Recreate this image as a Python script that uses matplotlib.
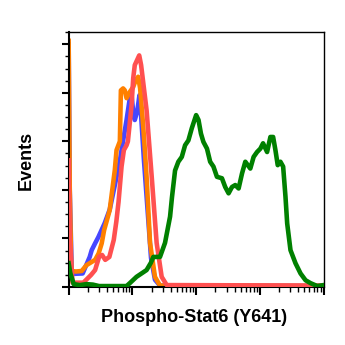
import matplotlib
matplotlib.use("Agg")
import matplotlib.pyplot as plt
from matplotlib.ticker import LogLocator, MultipleLocator, NullFormatter

# histogram traces (intensity, events)
blue_x = [1.0, 1.04, 1.12, 1.66, 2.14, 2.3, 2.6, 2.93, 3.69, 4.42, 5.64, 6.36, 6.76,
          8.1, 9.14, 9.71, 10.3, 10.9, 11.8, 12.3, 12.9, 13.6, 15.2, 17.5, 19.6,
          22.6, 27.1, 10000]
blue_y = [5.0, 2.0, 0.27, 0.28, 0.62, 0.76, 0.9, 1.03, 1.32, 1.6, 2.27, 2.6, 2.82,
          3.44, 3.9, 3.95, 3.6, 3.44, 3.6, 3.75, 3.95, 3.6, 2.6, 1.5, 0.6,
          0.15, 0.03, 0.02]

orange_x = [1.0, 1.04, 1.1, 1.3, 1.6, 1.9, 2.6, 2.95, 3.3, 3.6, 4.4, 5.3, 5.64, 6.36,
            6.6, 7.15, 7.6, 8.1, 9.14, 10.3, 11.2, 12.3, 13.2, 14.8, 15.5, 16.7,
            18.9, 22.6, 27.1, 10000]
orange_y = [5.07, 2.0, 0.33, 0.32, 0.33, 0.45, 0.56, 0.69, 0.9, 1.17, 1.58, 2.41, 2.82, 3.0,
            4.05, 4.09, 4.05, 3.89, 4.02, 4.12, 4.25, 4.33, 4.1, 3.3, 2.92, 2.27,
            0.91, 0.21, 0.03, 0.02]

red_x = [1.0, 1.04, 1.15, 1.7, 2.25, 2.6, 3.0, 3.35, 3.75, 4.35, 5.1, 5.6, 6.06, 6.76, 7.35,
         8.1, 8.5, 9.7, 10.3, 10.9, 12.8, 13.7, 16.7, 20.1, 24.0, 28.8, 34.6, 10000]
red_y = [2.61, 1.0, 0.09, 0.09, 0.25, 0.35, 0.62, 0.66, 0.56, 0.62, 0.97, 1.35, 1.75, 2.48, 2.82,
         2.92, 3.0, 3.74, 4.3, 4.57, 4.77, 4.57, 3.64, 2.27, 0.91, 0.21, 0.04, 0.03]

green_x = [1.0, 1.06, 1.2, 1.5, 1.9, 2.4, 3.0, 8.1, 9.1, 11.6, 16.7, 19.5, 21.3, 27.1,
           32.5, 39.0, 41.8, 46.7, 52.6, 59.6, 67.1, 75.6, 85.5, 100, 109, 119, 130,
           148, 166, 187, 212, 254, 286, 323, 365, 411, 464, 525, 591, 708, 798, 903,
           1018, 1122, 1298, 1463, 1614, 1754, 1906, 2102, 2318, 2522, 2682, 3022,
           3622, 4344, 5207, 6239, 7955, 10000]
green_y = [0.49, 0.29, 0.06, 0.04, 0.06, 0.05, 0.02, 0.02, 0.08, 0.21, 0.35, 0.5, 0.62, 0.62,
           0.91, 1.45, 1.85, 2.4, 2.58, 2.68, 2.92, 3.02, 3.27, 3.54, 3.44, 3.16, 2.99,
           2.85, 2.58, 2.48, 2.27, 2.24, 2.06, 1.93, 2.06, 2.10, 2.03, 2.34, 2.58, 2.44, 2.68, 2.78,
           2.85, 2.96, 2.78, 3.09, 3.09, 2.82, 2.51, 2.58, 2.48, 1.86, 1.31, 0.76,
           0.49, 0.28, 0.14, 0.08, 0.02, 0.04]

fig = plt.figure(figsize=(3.45, 3.45), dpi=100)
ax = fig.add_axes([0.199, 0.168, 0.739, 0.739])

ax.plot(blue_x, blue_y, color="#4747ff", lw=3.3, zorder=1, solid_joinstyle="round")
ax.plot(orange_x, orange_y, color="#ff8000", lw=3.3, zorder=2, solid_joinstyle="round")
ax.plot(red_x, red_y, color="#ff5050", lw=3.3, zorder=3, solid_joinstyle="round")
ax.plot(green_x, green_y, color="#008000", lw=3.3, zorder=4, solid_joinstyle="round")

ax.set_xscale("log")
ax.set_xlim(1, 10000)
ax.set_ylim(0, 5.25)
ax.xaxis.set_major_locator(LogLocator(base=10, numticks=10))
ax.xaxis.set_minor_locator(LogLocator(base=10, subs=range(2, 10), numticks=10))
ax.yaxis.set_major_locator(MultipleLocator(1))
ax.yaxis.set_minor_locator(MultipleLocator(0.25))
ax.xaxis.set_major_formatter(NullFormatter())
ax.xaxis.set_minor_formatter(NullFormatter())
ax.yaxis.set_major_formatter(NullFormatter())

ax.tick_params(axis="x", which="major", direction="out", length=5.5, width=1.5)
ax.tick_params(axis="x", which="minor", direction="out", length=3.5, width=1)
ax.tick_params(axis="y", which="major", direction="out", length=5, width=1.5)
ax.tick_params(axis="y", which="minor", direction="out", length=3, width=1)

for side in ["left", "bottom"]:
    ax.spines[side].set_linewidth(1.5)
for side in ["top", "right"]:
    ax.spines[side].set_linewidth(1)

fig.text(0.562, 0.081, "Phospho-Stat6 (Y641)", ha="center", va="center",
         fontsize=13, fontweight="bold", family="Liberation Sans")
fig.text(0.075, 0.536, "Events", ha="center", va="center", rotation=90,
         fontsize=13, fontweight="bold", family="Liberation Sans")

fig.savefig("out.png", dpi=100)
